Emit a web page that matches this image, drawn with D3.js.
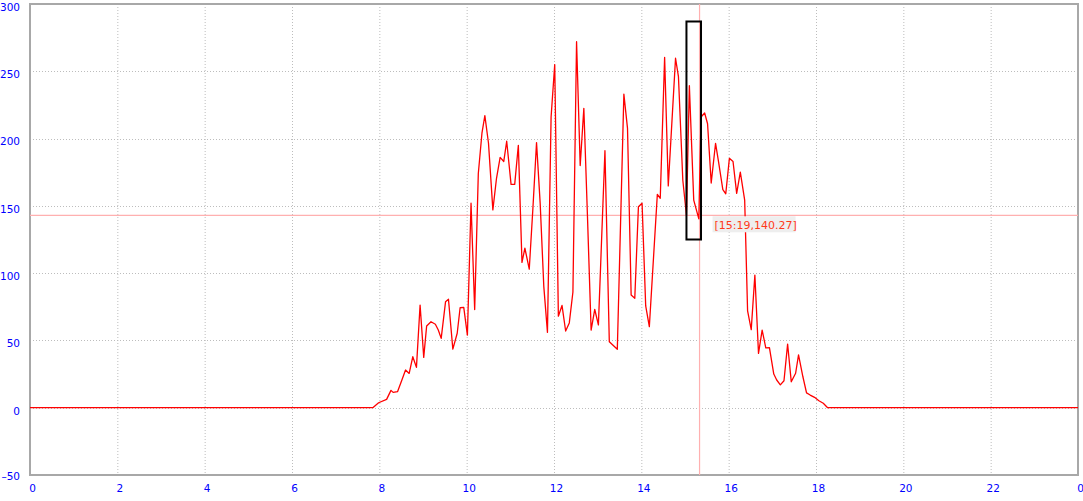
<!DOCTYPE html>
<html><head><meta charset="utf-8">
<script src="https://cdn.jsdelivr.net/npm/d3@7"></script>
<style>
html,body{margin:0;padding:0;background:#fff;overflow:hidden}
svg{display:block}
.tick text{font-family:"DejaVu Sans",Tahoma,sans-serif;font-size:10.5px;fill:#0000ff}
</style></head>
<body>
<svg id="c" width="1083" height="501"></svg>
<script>
// time of day in minutes, value
const minutes = [0,471,479,490,496,499,505,511,516,521,526,531,536,541,545,551,557,561,565,571,575,581,587,591,596,601,606,611,616,621,625,630,636,641,646,651,655,661,666,671,676,680,686,691,696,701,706,711,716,721,726,731,736,741,746,751,756,761,766,771,776,781,790,796,807,816,821,826,831,836,841,846,851,862,866,872,877,887,891,897,902,906,912,919,922,927,931,936,942,946,952,956,961,966,971,976,982,986,991,996,1001,1006,1011,1016,1022,1026,1031,1036,1041,1046,1052,1056,1062,1067,1072,1078,1084,1090,1096,1440];
const values  = [0,0,3.7,6.2,12.9,11.4,11.9,20.6,28,25.5,37.9,30,76.3,37.4,60.7,63.9,62,57.7,51.5,78.8,80.6,43.5,55.3,74.3,74.5,54,152,73,174,204,217,196.5,147,170.5,186,183,198,166,166,195,108,118.5,103,148,197,152,90,56,216,255,68,76,57,63,86,272,180,222.5,142,57.7,73,61.5,191,49,43.4,233,207.6,83.7,81.3,149.4,152,75.6,60.2,158.6,155.6,260.4,164.8,259.7,246,169,143,239.3,154.3,140.27,216,219,211,167,196.5,183,162,159,185.3,183,159.3,175,154.3,72,58,98.6,40.4,57.7,44.5,44.7,25,20.6,17,20,47.3,19.3,25.6,39.2,23,11,9.4,7.7,5.2,3.3,0,0];
const xTicks = [0,2,4,6,8,10,12,14,16,18,20,22,24];
const yTicks = [-50,0,50,100,150,200,250,300];
const cursorLabel = "[15:19,140.27]";
const cursor = {t: 920, v: 143};
const selBox = {t0: 902, t1: 922, v0: 125, v1: 287};

const svg = d3.select("#c");
const L = 30, R = 1078, T = 4, B = 475;
const x = d3.scaleLinear().domain([0, 1440]).range([L, R]);
const y = d3.scaleLinear().domain([-50, 300]).range([B, T]);

// grid
const g = svg.append("g");
g.selectAll(".vg").data(xTicks.slice(1, -1)).enter().append("line")
  .attr("x1", d => x(d*60)+0.5).attr("x2", d => x(d*60)+0.5)
  .attr("y1", T).attr("y2", B)
  .attr("stroke", "#bdbdbd").attr("stroke-dasharray", "1,2");
g.selectAll(".hg").data(yTicks.slice(1, -1)).enter().append("line")
  .attr("x1", L).attr("x2", R)
  .attr("y1", d => Math.round(y(d))+0.5).attr("y2", d => Math.round(y(d))+0.5)
  .attr("stroke", "#bdbdbd").attr("stroke-dasharray", "1,2");

// border
svg.append("rect").attr("x", L).attr("y", T).attr("width", R-L).attr("height", B-T)
  .attr("fill", "none").attr("stroke", "#a8a8a8").attr("stroke-width", 2);

// axes
const xa = svg.append("g").attr("transform", `translate(0,${B+7})`)
  .call(d3.axisBottom(x).tickValues(xTicks.map(d => d*60)).tickSize(0)
    .tickFormat(d => String((d/60) % 24)));
xa.select(".domain").remove();
xa.selectAll("text").attr("dx", "2");
const ya = svg.append("g").attr("transform", `translate(${L-7},3)`)
  .call(d3.axisLeft(y).tickValues(yTicks).tickSize(0).tickFormat(d => d < 0 ? "\u2013" + (-d) : d));
ya.select(".domain").remove();
ya.selectAll("text").filter(d => d === -50).attr("dy", "0.1em");

// crosshair
svg.append("line").attr("x1", L).attr("x2", R).attr("y1", y(cursor.v)).attr("y2", y(cursor.v))
  .attr("stroke", "#ffb0b0").attr("stroke-width", 1.2);
svg.append("line").attr("x1", x(cursor.t)).attr("x2", x(cursor.t)).attr("y1", T).attr("y2", B)
  .attr("stroke", "#ffb0b0").attr("stroke-width", 1.2);

// data line
const pts = minutes.map((m, i) => [m, values[i]]);
svg.append("path").datum(pts)
  .attr("d", d3.line().x(d => x(d[0])).y(d => y(d[1])))
  .attr("fill", "none").attr("stroke", "#ff0000").attr("stroke-width", 1.3)
  .attr("stroke-linejoin", "round");

// selection box
svg.append("rect").attr("x", x(selBox.t0)).attr("y", y(selBox.v1))
  .attr("width", x(selBox.t1)-x(selBox.t0)).attr("height", y(selBox.v0)-y(selBox.v1))
  .attr("fill", "none").attr("stroke", "#000").attr("stroke-width", 2);

// cursor label
const lx = x(cursor.t) + 13, ly = y(cursor.v) + 1;
svg.append("rect").attr("x", lx).attr("y", ly).attr("width", 83).attr("height", 16)
  .attr("fill", "#eeeeee");
svg.append("text").attr("x", lx + 2).attr("y", ly + 12.5).text(cursorLabel)
  .attr("font-family", "'DejaVu Sans', Tahoma, sans-serif").attr("font-size", "11px")
  .attr("fill", "#ff3a1a");
</script>
</body></html>
